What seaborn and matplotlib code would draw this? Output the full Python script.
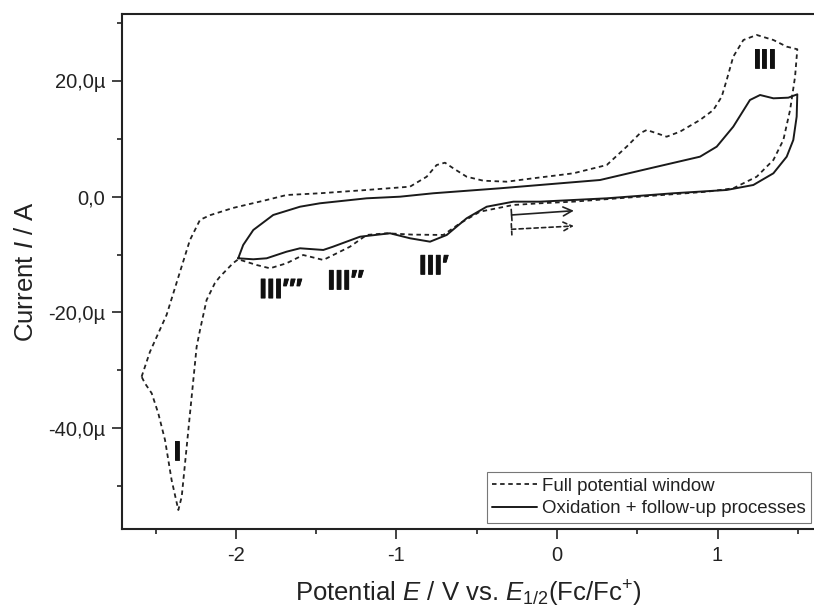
import numpy as np
import pandas as pd
import matplotlib
matplotlib.use("Agg")
import matplotlib.pyplot as plt
import matplotlib.patheffects as pe
import seaborn as sns
from matplotlib.ticker import FixedLocator, MultipleLocator

# ---------------- data (potential in V, current in µA) ----------------
full_E = [-2.588, -2.536, -2.432, -2.349, -2.287, -2.224, -2.162, -2.019, -1.809, -1.685,
          -1.477, -1.186, -0.916, -0.812, -0.750, -0.698, -0.646, -0.563, -0.459, -0.313,
          -0.148, 0.019, 0.102, 0.310, 0.434, 0.517, 0.559, 0.621, 0.683, 0.766,
          0.891, 0.974, 1.026, 1.057, 1.098, 1.161, 1.244, 1.348, 1.431, 1.497,
          1.483, 1.452, 1.410, 1.348, 1.244, 1.098, 0.933, 0.517, 0.102, -0.106,
          -0.272, -0.480, -0.604, -0.708, -0.900, -1.061, -1.186, -1.290, -1.456, -1.581,
          -1.685, -1.788, -1.871, -1.986, -2.019, -2.100, -2.131, -2.183, -2.224, -2.245,
          -2.276, -2.307, -2.338, -2.359, -2.401, -2.442, -2.484, -2.525, -2.567, -2.588]
full_I = [-31.1, -26.8, -20.4, -13.0, -7.5, -4.0, -3.2, -1.95, -0.57, 0.29,
          0.59, 1.16, 1.73, 3.45, 5.47, 5.87, 4.90, 3.45, 2.76, 2.59,
          3.18, 3.75, 4.04, 5.47, 8.64, 10.95, 11.52, 10.95, 10.36, 11.23,
          13.25, 14.97, 17.27, 20.15, 24.18, 27.06, 27.93, 27.06, 25.91, 25.46,
          20.72, 14.97, 9.79, 6.34, 3.45, 1.45, 0.86, 0.0, -0.86, -1.14,
          -1.43, -2.59, -4.59, -6.61, -6.55, -6.32, -6.61, -8.64, -10.93, -10.07,
          -11.50, -12.37, -11.80, -10.81, -11.50, -13.82, -14.9, -17.84, -23.02, -25.91,
          -34.54, -43.18, -51.81, -54.11, -48.93, -42.02, -37.41, -33.95, -32.23, -31.09]

ox_E = [-1.986, -1.955, -1.892, -1.768, -1.601, -1.477, -1.186, -0.978, -0.771, -0.355,
        0.019, 0.268, 0.579, 0.891, 0.995, 1.098, 1.202, 1.265, 1.348, 1.441, 1.497,
        1.493, 1.472, 1.431, 1.348, 1.223, 1.057, 0.725, 0.310, -0.106, -0.272,
        -0.438, -0.563, -0.687, -0.791, -0.916, -1.040, -1.227, -1.396, -1.456, -1.601,
        -1.685, -1.809, -1.892, -1.986]
ox_I = [-10.64, -8.34, -5.75, -3.16, -1.73, -1.14, -0.28, 0.0, 0.59, 1.45,
        2.31, 2.88, 4.90, 6.91, 8.64, 12.09, 16.70, 17.56, 16.99, 17.10, 17.68,
        13.82, 9.79, 6.91, 4.04, 2.02, 1.16, 0.59, -0.28, -0.86, -0.86,
        -1.73, -3.73, -6.61, -7.77, -7.18, -6.32, -6.91, -8.64, -9.20, -8.91,
        -9.50, -10.64, -10.81, -10.64]

series_names = ["Full potential window", "Oxidation + follow-up processes"]

peak_labels = ["III′′′", "III′′", "III′", "III", "I"]
peak_E = [-1.855, -1.43, -0.86, 1.22, -2.365]
peak_I = [-16.3, -14.8, -12.2, 23.4, -44.2]

arrow_start_E = [-0.283, -0.283]
arrow_end_E = [0.105, 0.105]
arrow_start_I = [-3.16, -5.63]
arrow_end_I = [-2.42, -5.06]

y_ticks = [-40, -20, 0, 20]
y_ticklabels = ["-40,0µ", "-20,0µ", "0,0", "20,0µ"]
x_ticks = [-2, -1, 0, 1]

# ---------------- figure ----------------
sns.set_style("ticks")
plt.rcParams["font.family"] = ["Liberation Sans", "DejaVu Sans"]
plt.rcParams["mathtext.fontset"] = "custom"
plt.rcParams["mathtext.rm"] = "Liberation Sans"
plt.rcParams["mathtext.it"] = "Liberation Sans:italic"

fig = plt.figure(figsize=(8.14, 6.08), dpi=100)
ax = fig.add_axes([122 / 814, 1 - 529 / 608, (814 - 122) / 814, (529 - 14) / 608])

df_full = pd.DataFrame({"E": full_E, "I": full_I})
df_ox = pd.DataFrame({"E": ox_E, "I": ox_I})

sns.lineplot(data=df_full, x="E", y="I", sort=False, estimator=None, ax=ax,
             color="#222222", lw=1.3, linestyle=(0, (2.5, 2.0)), label=series_names[0])
sns.lineplot(data=df_ox, x="E", y="I", sort=False, estimator=None, ax=ax,
             color="#1a1a1a", lw=1.4, linestyle="-", label=series_names[1])

ax.set_xlim(-2.710, 1.601)
ax.set_ylim(-57.39, 31.55)

ax.xaxis.set_major_locator(FixedLocator(x_ticks))
ax.xaxis.set_minor_locator(MultipleLocator(0.5))
ax.set_xticklabels([str(v) for v in x_ticks])
ax.yaxis.set_major_locator(FixedLocator(y_ticks))
ax.yaxis.set_minor_locator(MultipleLocator(10))
ax.set_yticklabels(y_ticklabels)

ax.tick_params(axis="both", which="major", direction="out", length=7, width=1.2,
               labelsize=14.5, colors="#222222", pad=5)
ax.tick_params(axis="both", which="minor", direction="out", length=3.5, width=1.2,
               colors="#222222")

for side in ["left", "bottom", "top"]:
    ax.spines[side].set_linewidth(1.5)
    ax.spines[side].set_color("#222222")
ax.spines["right"].set_visible(False)

ax.set_xlabel("Potential $E$ / V vs. $E_{1/2}$(Fc/Fc$^{+}$)", fontsize=18.5, color="#222222",
              labelpad=10)
ax.set_ylabel("Current $I$ / A", fontsize=18.5, color="#222222", labelpad=7)

# peak labels
for lab, e, i in zip(peak_labels, peak_E, peak_I):
    ax.text(e, i, lab, fontsize=20, fontweight="bold",
            family=["Liberation Sans Narrow", "Liberation Sans", "DejaVu Sans"],
            ha="left" if lab != "I" else "center", va="center", color="#111111",
            path_effects=[pe.withStroke(linewidth=0.6, foreground="#111111")])

# scan direction arrows
styles = ["-", (0, (2.5, 2.0))]
for xs, xe, ys, ye, ls in zip(arrow_start_E, arrow_end_E, arrow_start_I, arrow_end_I, styles):
    ax.annotate("", xy=(xe, ye), xytext=(xs, ys),
                arrowprops=dict(arrowstyle="]->,widthA=0.25,lengthA=0",
                                lw=1.2, color="#222222", linestyle=ls, shrinkA=0, shrinkB=0,
                                mutation_scale=16))

leg = ax.legend(loc="lower right", bbox_to_anchor=(811 / 814, 1 - 523 / 608),
                bbox_transform=fig.transFigure, fontsize=13.4, frameon=True, fancybox=False,
                borderpad=0.3, handlelength=2.4, handletextpad=0.25, labelspacing=0.3,
                borderaxespad=0)
leg.get_frame().set_edgecolor("#555555")
leg.get_frame().set_linewidth(0.8)
for t in leg.get_texts():
    t.set_color("#222222")

fig.savefig("out.png", dpi=100)
